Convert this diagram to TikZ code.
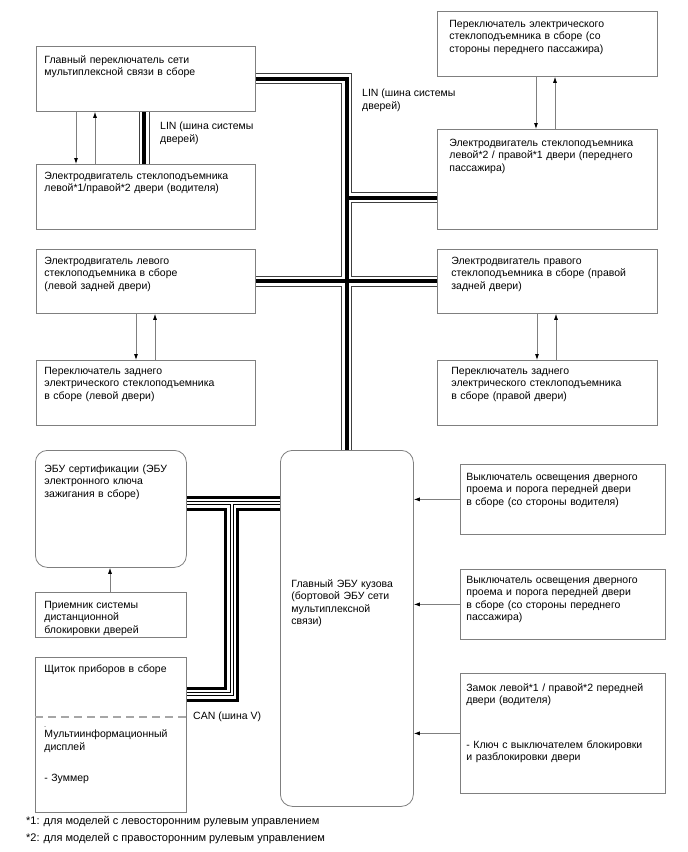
\documentclass[tikz,border=0pt]{standalone}
\usepackage{fontspec}
\setmainfont{Liberation Sans}
\usetikzlibrary{arrows.meta,calc}
\definecolor{boxgray}{HTML}{7F7F7F}
\definecolor{dashgray}{HTML}{A6A6A6}

\begin{document}
\begin{tikzpicture}[x=1pt, y=-1pt,
  font=\fontsize{10.5}{12.5}\selectfont,
  blk/.style n args={4}{draw=boxgray, line width=0.8pt, anchor=north west,
    align=left, inner ysep=0pt, inner xsep=#4,
    minimum width=#1, text width=#1-2*#4, text height=#3, text depth=#2-#3},
  ecu/.style={rounded corners=12pt},
  sig/.style={draw=boxgray, line width=0.8pt, -{Latex[length=6pt,width=4pt,color=black]}},
  lin/.style={draw=black!75, line width=11pt,
    postaction={draw=white, line width=9pt},
    postaction={draw=black, line width=4pt}},
  can/.style={draw=black, line width=15pt,
    postaction={draw=white, line width=9pt},
    postaction={draw=black, line width=4pt},
    postaction={draw=white, line width=2pt}},
  divider/.style={draw=dashgray, line width=1.5pt, dash pattern=on 8pt off 5pt},
  lbl/.style={align=left, inner sep=0pt}
]
  \useasboundingbox (0,0) rectangle (688,852);

  % Front doors
  \node[blk={219pt}{65pt}{17pt}{8pt}] (main) at (36,46) {Главный переключатель сети\\мультиплексной связи в сборе};
  \node[blk={219pt}{65pt}{15pt}{8pt}] (dmotor) at (36,164) {Электродвигатель стеклоподъемника\\левой*1/правой*2 двери (водителя)};
  \node[blk={220pt}{65pt}{16pt}{12pt}] (pswitch) at (437,11) {Переключатель электрического\\стеклоподъемника в сборе (со\\стороны переднего пассажира)};
  \node[blk={220pt}{100pt}{17pt}{12pt}] (pmotor) at (437,129) {Электродвигатель стеклоподъемника\\левой*2 / правой*1 двери (переднего\\пассажира)};

  % Rear doors
  \node[blk={219pt}{64pt}{15pt}{8pt}] (rlmotor) at (36,249) {Электродвигатель левого\\стеклоподъемника в сборе\\(левой задней двери)};
  \node[blk={219pt}{65pt}{14pt}{8pt}] (rlswitch) at (36,360) {Переключатель заднего\\электрического стеклоподъемника\\в сборе (левой двери)};
  \node[blk={220pt}{64pt}{15pt}{14pt}] (rrmotor) at (437,249) {Электродвигатель правого\\стеклоподъемника в сборе (правой\\задней двери)};
  \node[blk={220pt}{65pt}{14pt}{14pt}] (rrswitch) at (437,360) {Переключатель заднего\\электрического стеклоподъемника\\в сборе (правой двери)};

  % ECUs and meter
  \node[blk={151pt}{117pt}{22pt}{9pt}, ecu] (cert) at (35,450) {ЭБУ сертификации (ЭБУ\\электронного ключа\\зажигания в сборе)};
  \node[blk={151pt}{45pt}{16pt}{9pt}] (recv) at (35,592) {Приемник системы\\дистанционной\\блокировки дверей};
  \node[blk={151pt}{155pt}{15pt}{9pt}] (meter) at (35,657) {Щиток приборов в сборе\\[53pt]\leavevmode\rlap{\smash{\raisebox{9pt}{\tiny -}}}Мультиинформационный\\дисплей\\[19pt]- Зуммер};
  \node[blk={133pt}{356pt}{137pt}{11pt}, ecu] (body) at (280,450) {Главный ЭБУ кузова\\(бортовой ЭБУ сети\\мультиплексной\\связи)};

  % Door switches and lock
  \node[blk={205pt}{70pt}{16pt}{6pt}] (dlamp) at (460,464) {Выключатель освещения дверного\\проема и порога передней двери\\в сборе (со стороны водителя)};
  \node[blk={205pt}{70pt}{14pt}{6pt}] (plamp) at (460,569) {Выключатель освещения дверного\\проема и порога передней двери\\в сборе (со стороны переднего\\пассажира)};
  \node[blk={205pt}{120pt}{18pt}{6pt}] (lock) at (460,673) {Замок левой*1 / правой*2 передней\\двери (водителя)\\[32pt]- Ключ с выключателем блокировки\\и разблокировки двери};

  % Meter divider
  \draw[divider] ([yshift=-60pt]meter.north west) -- ([yshift=-60pt]meter.north east);

  % LIN bus
  \coordinate (pj) at ($(pmotor.south west)+(0,-32)$);
  \coordinate (rj) at ($(rlmotor.north east)+(0,32)$);
  \draw[lin] (main.east) -| (body.north)
    (pj) -- (pj -| body.north)
    (rj) -- (rj -| rrmotor.west);
  \draw[lin] ([xshift=108pt]main.south west) -- ([xshift=108pt]dmotor.north west);

  % CAN bus
  \coordinate (cj) at (231.5,503);
  \coordinate (cc) at (231.5,694);
  \draw[can] (cert.east |- cj) -- (body.west |- cj)
    (cj) -- (cc) -- (meter.east |- cc);

  % Signal arrows
  \draw[sig] ([xshift=40pt]main.south west) -- ([xshift=40pt]dmotor.north west);
  \draw[sig] ([xshift=59pt]dmotor.north west) -- ([xshift=59pt]main.south west);
  \draw[sig] ([xshift=99pt]pswitch.south west) -- ([xshift=99pt]pmotor.north west);
  \draw[sig] ([xshift=118pt]pmotor.north west) -- ([xshift=118pt]pswitch.south west);
  \draw[sig] ([xshift=100pt]rlmotor.south west) -- ([xshift=100pt]rlswitch.north west);
  \draw[sig] ([xshift=119pt]rlswitch.north west) -- ([xshift=119pt]rlmotor.south west);
  \draw[sig] ([xshift=100pt]rrmotor.south west) -- ([xshift=100pt]rrswitch.north west);
  \draw[sig] ([xshift=119pt]rrswitch.north west) -- ([xshift=119pt]rrmotor.south west);
  \draw[sig] ([xshift=75pt]recv.north west) -- ([xshift=75pt]cert.south west);
  \draw[sig] (dlamp.west) -- (dlamp.west -| body.east);
  \draw[sig] (plamp.west) -- (plamp.west -| body.east);
  \draw[sig] (lock.west) -- (lock.west -| body.east);

  % Labels
  \node[lbl, anchor=north west] (linL) at (160,122) {LIN (шина системы\\дверей)};
  \node[lbl, anchor=north west] (linR) at (362,89) {LIN (шина системы\\дверей)};
  \node[lbl, anchor=west] (canL) at (193,717) {CAN (шина V)};

  % Footnotes
  \node[lbl, anchor=west, font=\fontsize{11}{13}\selectfont] (fn1) at (26,822) {*1: для моделей с левосторонним рулевым управлением};
  \node[lbl, anchor=west, font=\fontsize{11}{13}\selectfont] (fn2) at (26,839) {*2: для моделей с правосторонним рулевым управлением};
\end{tikzpicture}
\end{document}
